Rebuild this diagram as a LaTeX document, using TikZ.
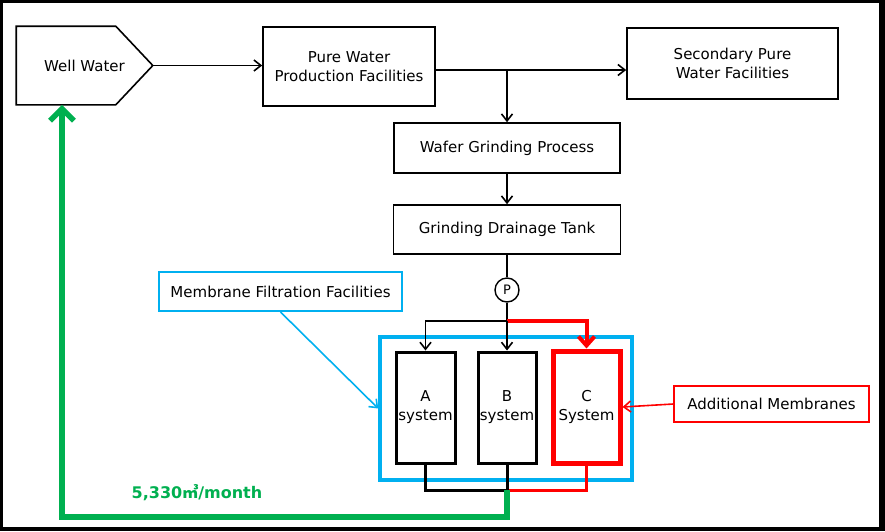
\documentclass[tikz,border=0pt]{standalone}
\usepackage{fontspec}
\setmainfont{DejaVu Sans}
\newfontfamily\cjk{Noto Sans CJK JP}
\usepackage{tikz}
\usetikzlibrary{arrows.meta}
\usetikzlibrary{calc}
\definecolor{mfblue}{RGB}{0,176,240}
\definecolor{flowgreen}{RGB}{0,176,80}

\begin{document}
\begin{tikzpicture}[x=1pt,y=-1pt,line width=1.6pt,>/.tip={Straight Barb[length=7pt,width=11pt]},
	every node/.style={font=\fontsize{15}{19}\selectfont},
	box/.style={shape=rectangle,draw,line width=1.6pt,align=center,inner sep=0pt},
	sysbox/.style={box,line width=3pt,minimum width=59,minimum height=111}]
	\useasboundingbox (0,0) rectangle (885,531);
	\fill[black] (0,0) rectangle (885,531);
	\fill[white] (3,3) rectangle (879,527);
	\draw (84.5,65.5) node (ww) [shape=rectangle,minimum width=135,minimum height=77,inner sep=0pt] {Well Water\hspace{15pt}};
	\draw[line width=1.6pt] (ww.north west) -- ($(ww.north east)+(-37,0)$) -- (ww.east) -- ($(ww.south east)+(-37,0)$) -- (ww.south west) -- cycle;
	\draw (349,66.5) node (pw) [box,minimum width=172,minimum height=79] {Pure Water\\Production Facilities};
	\draw (732.5,63.5) node (sp) [box,minimum width=211,minimum height=71] {Secondary Pure\\Water Facilities};
	\draw (507,148) node (wg) [box,minimum width=226,minimum height=50] {Wafer Grinding Process};
	\draw (507,229.5) node (gd) [box,minimum width=227,minimum height=49] {Grinding Drainage Tank};
	\draw (507,290) node (p) [shape=circle,draw,line width=1.4pt,minimum size=24,inner sep=0pt,font=\fontsize{13}{13}\selectfont] {P};
	\draw (506,408.5) node (mf) [box,draw=mfblue,line width=3.5pt,minimum width=252,minimum height=143] {};
	\draw (425.5,407.5) node (a) [sysbox] {A\\system};
	\draw (507,407.5) node (b) [sysbox,minimum width=58] {B\\system};
	\draw (586.5,407) node (c) [sysbox,draw=red,line width=5pt,minimum width=67,minimum height=112] {C\\System};
	\draw (280.5,291.5) node (mfl) [box,draw=mfblue,line width=2pt,minimum width=243,minimum height=39] {Membrane Filtration Facilities};
	\draw (771.5,404) node (am) [box,draw=red,line width=1.5pt,minimum width=195,minimum height=36] {Additional Membranes};
	\draw (197,493) node (flow) [text=flowgreen,font=\fontsize{16}{16}\selectfont\bfseries] {5,330{\cjk ㎥}/month};
	% supply side
	\coordinate (split) at (507,70);
	\draw[->] (ww.east) -- (pw.west |- ww.east);
	\draw[->] (pw.east |- split) -- (sp.west |- split);
	\draw[->] (split) -- (wg.north);
	\draw[->] (wg) -- (gd);
	\draw (gd) -- (p);
	% feed to the membranes
	\coordinate (feed) at (507,321);
	\draw (p) -- (feed);
	\draw[red,line width=4pt,-{Straight Barb[length=9pt,width=16pt]}] (feed) -| (c.north);
	\draw[->] (feed) -| (a.north);
	\draw[->] (feed) -- (b.north);
	% return to the well
	\coordinate (drain) at (507,490);
	\coordinate (ret) at (62,517);
	\draw[red,line width=3pt] (c.south) |- (drain);
	\draw[line width=3pt] (a.south) |- (drain);
	\draw[line width=3pt] (b.south) -- (drain);
	\draw[flowgreen,line width=5.5pt,-{Straight Barb[length=12pt,width=24pt]}] (drain) |- (ret) -- (ret |- ww.south);
	% callouts
	\draw[->,mfblue,line width=1.6pt] (mfl.south) -- (mf.west);
	\draw[->,red,line width=1.6pt] (am.west) -- (c.east);
\end{tikzpicture}
\end{document}
